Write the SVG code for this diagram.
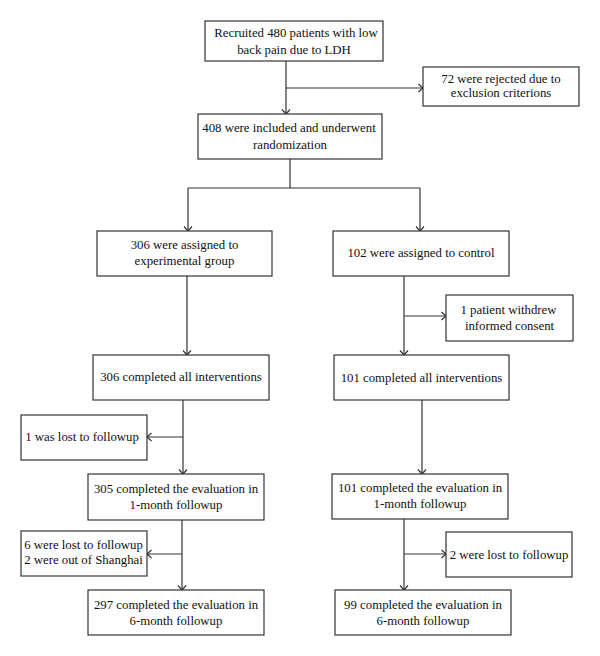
<svg xmlns="http://www.w3.org/2000/svg" width="600" height="656" viewBox="0 0 600 656">
<style>
.box{fill:#fff;stroke:#333;stroke-width:1.2}
.t{font-family:"Liberation Serif","Times New Roman",serif;font-size:12.8px;fill:#111;text-anchor:middle}
.c{fill:none;stroke:#333;stroke-width:1.2}
.a{marker-end:url(#arr)}
</style>
<defs>
<marker id="arr" markerUnits="userSpaceOnUse" viewBox="-6 -6 8 12" refX="0" refY="0" markerWidth="8" markerHeight="12" orient="auto" overflow="visible">
<path d="M-4.5,-4 L0,0 L-4.5,4" fill="none" stroke="#333" stroke-width="1.2"/>
</marker>
</defs>
<rect width="600" height="656" fill="#fff"/>
<g id="connectors">
<path class="c a" d="M286,61 V114"/>
<path class="c a" d="M286,88 H423"/>
<path class="c" d="M290,159 V188 M188,188 H420"/>
<path class="c a" d="M188,188 V231"/>
<path class="c a" d="M420,188 V231"/>
<path class="c a" d="M187,276 V355"/>
<path class="c a" d="M404,276 V355"/>
<path class="c a" d="M404,316 H446"/>
<path class="c a" d="M183,400 V474"/>
<path class="c a" d="M183,437 H147"/>
<path class="c a" d="M422,400 V474"/>
<path class="c a" d="M182,520 V590"/>
<path class="c a" d="M182,554 H147"/>
<path class="c a" d="M404,519 V590"/>
<path class="c a" d="M404,554 H446"/>
</g>
<g id="n1"><rect class="box" x="205" y="21" width="178" height="40"/><text class="t" x="296" y="37">Recruited 480 patients with low</text><text class="t" x="294" y="54">back pain due to LDH</text></g>
<g id="n2"><rect class="box" x="423" y="67" width="156" height="39"/><text class="t" x="501" y="83">72 were rejected due to</text><text class="t" x="501" y="97">exclusion criterions</text></g>
<g id="n3"><rect class="box" x="198" y="114" width="184" height="45"/><text class="t" x="289" y="132">408 were included and underwent</text><text class="t" x="290" y="149">randomization</text></g>
<g id="n4"><rect class="box" x="97" y="231" width="175" height="45"/><text class="t" x="184.5" y="249">306 were assigned to</text><text class="t" x="184.5" y="264.5">experimental group</text></g>
<g id="n5"><rect class="box" x="333" y="231" width="176" height="45"/><text class="t" x="421" y="257">102 were assigned to control</text></g>
<g id="n6"><rect class="box" x="446" y="295" width="127" height="46"/><text class="t" x="508.5" y="314">1 patient withdrew</text><text class="t" x="509.5" y="330">informed consent</text></g>
<g id="n7"><rect class="box" x="93" y="355" width="176" height="45"/><text class="t" x="181" y="381">306 completed all interventions</text></g>
<g id="n8"><rect class="box" x="334" y="355" width="175" height="45"/><text class="t" x="421.5" y="382">101 completed all interventions</text></g>
<g id="n9"><rect class="box" x="21" y="415" width="126" height="45"/><text class="t" x="82" y="441">1 was lost to followup</text></g>
<g id="n10"><rect class="box" x="88" y="474" width="176" height="46"/><text class="t" x="176" y="492.5">305 completed the evaluation in</text><text class="t" x="176" y="508.5">1-month followup</text></g>
<g id="n11"><rect class="box" x="332" y="474" width="176" height="45"/><text class="t" x="420" y="492">101 completed the evaluation in</text><text class="t" x="420" y="508">1-month followup</text></g>
<g id="n12"><rect class="box" x="21" y="531" width="126" height="45"/><text class="t" x="83.5" y="548.5">6 were lost to followup</text><text class="t" x="83.5" y="564">2 were out of Shanghai</text></g>
<g id="n13"><rect class="box" x="446" y="532" width="126" height="45"/><text class="t" x="509" y="558.5">2 were lost to followup</text></g>
<g id="n14"><rect class="box" x="88" y="590" width="176" height="45"/><text class="t" x="176" y="609">297 completed the evaluation in</text><text class="t" x="176" y="624.5">6-month followup</text></g>
<g id="n15"><rect class="box" x="335" y="590" width="176" height="45"/><text class="t" x="423" y="609">99 completed the evaluation in</text><text class="t" x="423" y="624.5">6-month followup</text></g>
</svg>
